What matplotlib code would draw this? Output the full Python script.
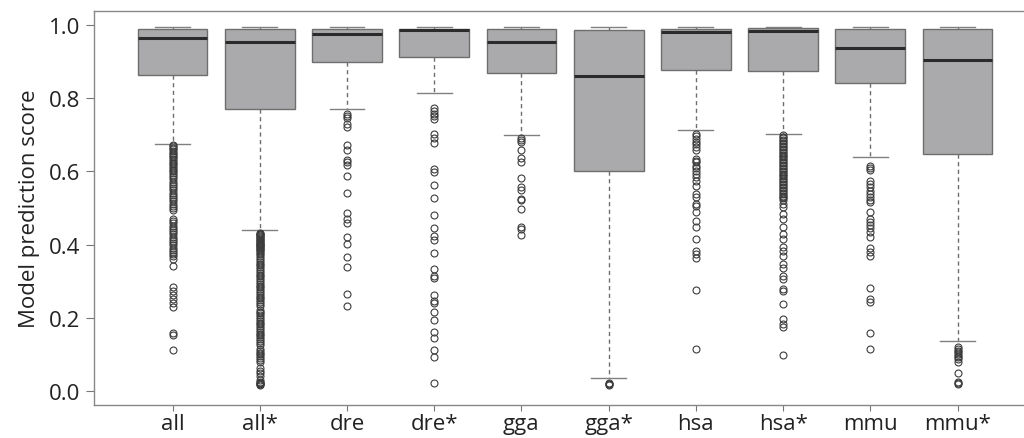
import numpy as np
import matplotlib
matplotlib.use('Agg')
import matplotlib.pyplot as plt

plt.rcParams['font.family'] = ['Open Sans', 'DejaVu Sans']

# box statistics
labels = ['all', 'all*', 'dre', 'dre*', 'gga', 'gga*', 'hsa', 'hsa*', 'mmu', 'mmu*']
whis_lo = [0.675, 0.440, 0.771, 0.814, 0.698, 0.035, 0.712, 0.701, 0.640, 0.138]
q1 = [0.862, 0.770, 0.899, 0.912, 0.870, 0.602, 0.876, 0.875, 0.841, 0.648]
med = [0.963, 0.953, 0.974, 0.986, 0.954, 0.860, 0.981, 0.984, 0.936, 0.904]
q3 = [0.989, 0.990, 0.988, 0.990, 0.988, 0.986, 0.989, 0.991, 0.988, 0.989]
whis_hi = [0.994, 0.994, 0.994, 0.994, 0.994, 0.994, 0.994, 0.994, 0.994, 0.994]

# outliers
out_all = [0.672, 0.668, 0.664, 0.660, 0.656, 0.651, 0.647, 0.643, 0.638, 0.633,
           0.628, 0.624, 0.619, 0.614, 0.610, 0.605, 0.600, 0.596, 0.590, 0.584,
           0.578, 0.572, 0.566, 0.560, 0.554, 0.548, 0.542, 0.536, 0.530, 0.524,
           0.518, 0.512, 0.506, 0.500, 0.494, 0.470, 0.464, 0.458, 0.452, 0.446,
           0.440, 0.434, 0.428, 0.422, 0.416, 0.410, 0.404, 0.398, 0.392, 0.386,
           0.380, 0.374, 0.368, 0.362, 0.341, 0.283, 0.273, 0.262, 0.251, 0.240,
           0.229, 0.158, 0.154, 0.113]
out_all_s = [0.433, 0.430, 0.428, 0.425, 0.423, 0.420, 0.418, 0.415, 0.413, 0.410,
             0.408, 0.405, 0.403, 0.400, 0.398, 0.395, 0.393, 0.390, 0.388, 0.385,
             0.383, 0.378, 0.373, 0.368, 0.363, 0.358, 0.353, 0.348, 0.343, 0.338,
             0.333, 0.328, 0.323, 0.318, 0.313, 0.308, 0.303, 0.298, 0.293, 0.288,
             0.283, 0.278, 0.273, 0.268, 0.263, 0.258, 0.253, 0.248, 0.243, 0.238,
             0.232, 0.222, 0.217, 0.212, 0.207, 0.202, 0.197, 0.192, 0.187, 0.182,
             0.177, 0.172, 0.167, 0.162, 0.157, 0.152, 0.147, 0.142, 0.137, 0.132,
             0.126, 0.115, 0.110, 0.105, 0.100, 0.095, 0.090, 0.085, 0.080, 0.062,
             0.055, 0.048, 0.042, 0.030, 0.025, 0.023, 0.021, 0.019, 0.018, 0.016]
out_dre = [0.757, 0.750, 0.745, 0.730, 0.720, 0.673, 0.657, 0.631, 0.625, 0.618,
           0.588, 0.540, 0.486, 0.470, 0.459, 0.420, 0.401, 0.367, 0.339, 0.266,
           0.231]
out_dre_s = [0.773, 0.766, 0.757, 0.750, 0.743, 0.702, 0.690, 0.677, 0.607, 0.597,
             0.563, 0.526, 0.481, 0.444, 0.423, 0.413, 0.376, 0.333, 0.315, 0.308,
             0.262, 0.245, 0.240, 0.215, 0.195, 0.160, 0.145, 0.112, 0.092, 0.021]
out_gga = [0.691, 0.687, 0.680, 0.657, 0.636, 0.625, 0.581, 0.556, 0.549, 0.525,
           0.522, 0.497, 0.449, 0.443, 0.427]
out_gga_s = [0.022, 0.020, 0.018, 0.016]
out_hsa = [0.702, 0.696, 0.689, 0.679, 0.675, 0.666, 0.657, 0.634, 0.629, 0.625,
           0.616, 0.608, 0.602, 0.593, 0.584, 0.575, 0.561, 0.538, 0.529, 0.511,
           0.506, 0.490, 0.465, 0.447, 0.415, 0.383, 0.374, 0.363, 0.277, 0.115]
out_hsa_s = [0.698, 0.694, 0.690, 0.686, 0.682, 0.678, 0.674, 0.670, 0.666, 0.662,
             0.658, 0.654, 0.650, 0.646, 0.642, 0.638, 0.634, 0.630, 0.626, 0.622,
             0.618, 0.614, 0.610, 0.606, 0.602, 0.598, 0.594, 0.590, 0.586, 0.582,
             0.578, 0.574, 0.570, 0.566, 0.562, 0.558, 0.554, 0.550, 0.546, 0.542,
             0.538, 0.534, 0.530, 0.526, 0.522, 0.511, 0.502, 0.484, 0.470, 0.447,
             0.429, 0.415, 0.393, 0.383, 0.370, 0.347, 0.337, 0.315, 0.306, 0.279,
             0.274, 0.238, 0.197, 0.183, 0.175, 0.098]
out_mmu = [0.614, 0.608, 0.604, 0.575, 0.566, 0.557, 0.547, 0.538, 0.529, 0.523,
           0.516, 0.490, 0.470, 0.461, 0.454, 0.445, 0.434, 0.420, 0.390, 0.381,
           0.368, 0.281, 0.251, 0.242, 0.158, 0.115]
out_mmu_s = [0.119, 0.115, 0.110, 0.106, 0.101, 0.097, 0.092, 0.087, 0.080, 0.048,
             0.025, 0.021, 0.019]
outliers = [out_all, out_all_s, out_dre, out_dre_s, out_gga, out_gga_s,
            out_hsa, out_hsa_s, out_mmu, out_mmu_s]

stats = []
for i in range(len(labels)):
    stats.append(dict(label=labels[i], whislo=whis_lo[i], q1=q1[i], med=med[i],
                      q3=q3[i], whishi=whis_hi[i], fliers=outliers[i]))

fig = plt.figure(figsize=(10.24, 4.39), dpi=100)
ax = fig.add_axes([0.0918, 0.0752, 0.92, 0.8975])

ax.bxp(stats, positions=np.arange(1, 11), widths=0.8, capwidths=0.4,
       patch_artist=True,
       boxprops=dict(facecolor='#aaaaac', edgecolor='#6e6e6e', linewidth=1.0),
       medianprops=dict(color='#2b2b2b', linewidth=2.2),
       whiskerprops=dict(color='#6e6e6e', linewidth=1.0, linestyle=(0, (3, 2.5))),
       capprops=dict(color='#808080', linewidth=1.0),
       flierprops=dict(marker='o', markersize=5, markerfacecolor='none',
                       markeredgecolor='#3c3c3c', markeredgewidth=0.8))

ax.set_xlim(0.1, 10.9)
ax.set_ylim(-0.038, 1.038)
ax.set_yticks([0.0, 0.2, 0.4, 0.6, 0.8, 1.0])
ax.set_yticklabels(['0.0', '0.2', '0.4', '0.6', '0.8', '1.0'])
ax.set_ylabel('Model prediction score', fontsize=16, color='#222222', labelpad=6)
ax.tick_params(axis='both', labelsize=16, colors='#222222', width=0.8)
ax.tick_params(axis='y', length=6, pad=4)
ax.tick_params(axis='x', length=4, pad=2)
ax.tick_params(axis='both', color='#777777')
for s in ax.spines.values():
    s.set_color('#888888')
    s.set_linewidth(1.0)

fig.savefig('out.png', dpi=100)
